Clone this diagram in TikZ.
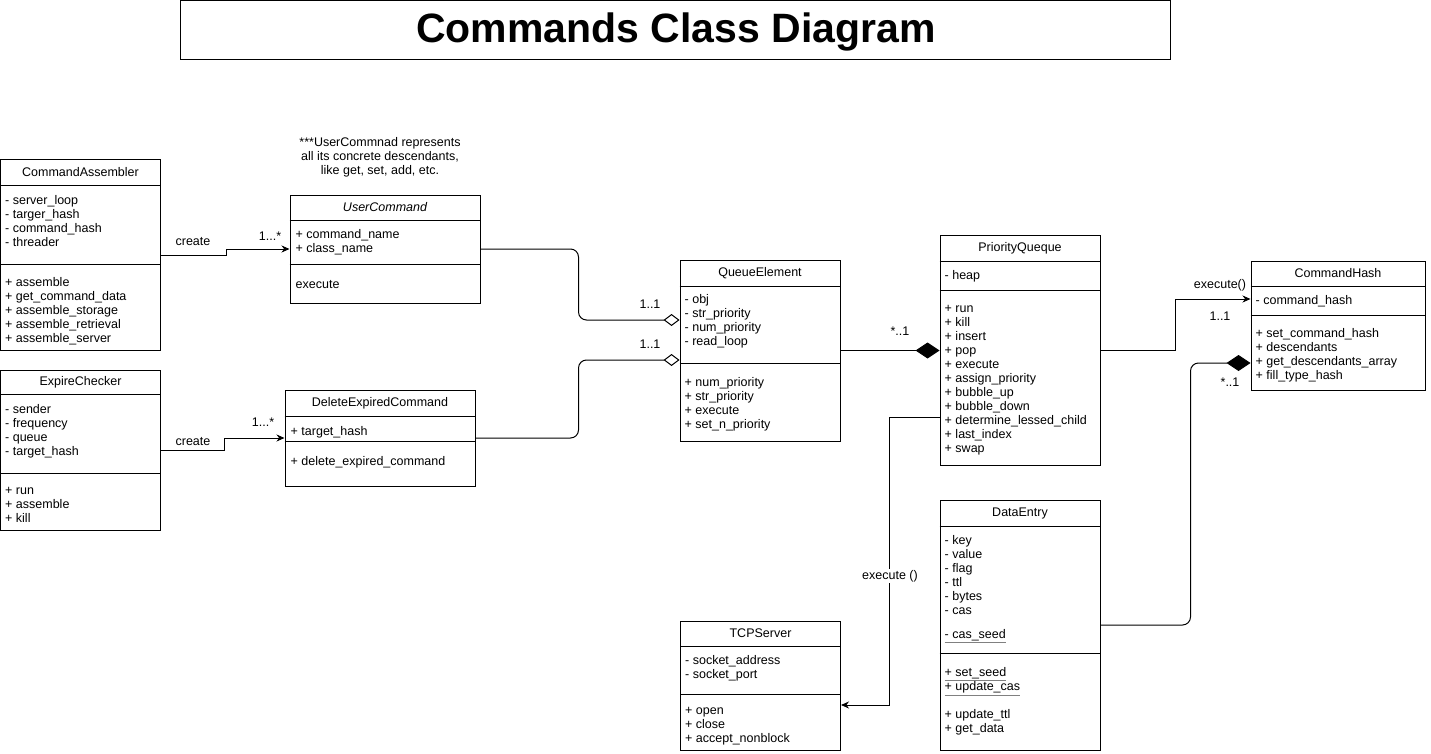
\documentclass[tikz,border=0pt]{standalone}
\usepackage{fontspec}
\setmainfont{Liberation Sans}
\usepackage{tikz}
\usetikzlibrary{arrows.meta}
\newcommand{\stmember}[1]{\mbox{\rlap{\color{gray}\underline{\phantom{#1}}}#1}}
\tikzset{%
	umlclass/.style = {draw, rectangle, line width=1pt, inner sep=0pt},
	clsname/.style  = {inner sep=0pt, font=\fontsize{12.5}{14}\selectfont},
	members/.style  = {anchor=north west, align=left, inner sep=0pt, font=\fontsize{12.5}{14}\selectfont, execute at begin node=\strut},
	divider/.style  = {line width=1pt},
	mult/.style     = {inner sep=1pt, font=\fontsize{12.5}{14}\selectfont},
	assoc/.style    = {line width=1pt, -{Stealth[length=8pt,width=7pt]}},
	aggr/.style     = {line width=1pt, -{Diamond[open,length=16pt,width=12pt]}},
	compos/.style   = {line width=1pt, -{Diamond[length=24pt,width=16pt]}},
}

\begin{document}
\begin{tikzpicture}[x=1pt,y=-1pt]
	\useasboundingbox (0,0) rectangle (1431,754);
	% title
	\node[draw, line width=1pt, minimum width=990pt, minimum height=59pt] (title) at (675,30.5) {};
	\node[font=\fontsize{41}{48}\selectfont\bfseries] (title-text) at (676,32) {Commands Class Diagram};
	% CommandAssembler
	\node[umlclass, minimum width=160pt, minimum height=190pt] (asm) at (80.5,255) {};
	\node[clsname] (asm-name) at ([yshift=-13pt]asm.north) {CommandAssembler};
	\draw[divider] ([yshift=-26pt]asm.north west) -- ([yshift=-26pt]asm.north east);
	\draw[divider] ([yshift=-105pt]asm.north west) -- ([yshift=-105pt]asm.north east);
	\node[members] (asm-attr) at ([xshift=5pt,yshift=-36pt]asm.north west) {- server\_loop\\- targer\_hash\\- command\_hash\\- threader};
	\node[members] (asm-meth) at ([xshift=5pt,yshift=-118pt]asm.north west) {+ assemble\\+ get\_command\_data\\+ assemble\_storage\\+ assemble\_retrieval\\+ assemble\_server};
	% ExpireChecker
	\node[umlclass, minimum width=160pt, minimum height=160pt] (exp) at (80.5,450) {};
	\node[clsname] (exp-name) at ([yshift=-12.5pt]exp.north) {ExpireChecker};
	\draw[divider] ([yshift=-25pt]exp.north west) -- ([yshift=-25pt]exp.north east);
	\draw[divider] ([yshift=-104pt]exp.north west) -- ([yshift=-104pt]exp.north east);
	\node[members] (exp-attr) at ([xshift=5pt,yshift=-35pt]exp.north west) {- sender\\- frequency\\- queue\\- target\_hash};
	\node[members] (exp-meth) at ([xshift=5pt,yshift=-118pt]exp.north west) {+ run\\+ assemble\\+ kill};
	% UserCommand
	\node[align=center, font=\fontsize{12.5}{14}\selectfont] (note) at (380,157) {***UserCommnad represents\\all its concrete descendants,\\like get, set, add, etc.};
	\node[umlclass, minimum width=190pt, minimum height=108pt] (ucmd) at (385,249) {};
	\node[clsname, font=\fontsize{12.5}{14}\selectfont\itshape] (ucmd-name) at ([yshift=-13pt]ucmd.north) {UserCommand};
	\draw[divider] ([yshift=-26pt]ucmd.north west) -- ([yshift=-26pt]ucmd.north east);
	\draw[divider] ([yshift=-70pt]ucmd.north west) -- ([yshift=-70pt]ucmd.north east);
	\node[members] (ucmd-attr) at ([xshift=6pt,yshift=-35pt]ucmd.north west) {+ command\_name\\+ class\_name};
	\node[members] (ucmd-meth) at ([xshift=6pt,yshift=-84pt]ucmd.north west) {execute};
	% DeleteExpiredCommand
	\node[umlclass, minimum width=190pt, minimum height=96pt] (dec) at (380,438) {};
	\node[clsname] (dec-name) at ([yshift=-13.5pt]dec.north) {DeleteExpiredCommand};
	\draw[divider] ([yshift=-27pt]dec.north west) -- ([yshift=-27pt]dec.north east);
	\draw[divider] ([yshift=-52pt]dec.north west) -- ([yshift=-52pt]dec.north east);
	\node[members] (dec-attr) at ([xshift=6pt,yshift=-36pt]dec.north west) {+ target\_hash};
	\node[members] (dec-meth) at ([xshift=6pt,yshift=-66pt]dec.north west) {+ delete\_expired\_command};
	% QueueElement
	\node[umlclass, minimum width=160pt, minimum height=181pt] (qe) at (760,350.5) {};
	\node[clsname] (qe-name) at ([yshift=-13.5pt]qe.north) {QueueElement};
	\draw[divider] ([yshift=-27pt]qe.north west) -- ([yshift=-27pt]qe.north east);
	\draw[divider] ([yshift=-104pt]qe.north west) -- ([yshift=-104pt]qe.north east);
	\node[members] (qe-attr) at ([xshift=5pt,yshift=-35pt]qe.north west) {- obj\\- str\_priority\\- num\_priority\\- read\_loop};
	\node[members] (qe-meth) at ([xshift=5pt,yshift=-118pt]qe.north west) {+ num\_priority\\+ str\_priority\\+ execute\\+ set\_n\_priority};
	% PriorityQueque
	\node[umlclass, minimum width=160pt, minimum height=230pt] (pq) at (1020,350) {};
	\node[clsname] (pq-name) at ([yshift=-13.5pt]pq.north) {PriorityQueque};
	\draw[divider] ([yshift=-27pt]pq.north west) -- ([yshift=-27pt]pq.north east);
	\draw[divider] ([yshift=-56pt]pq.north west) -- ([yshift=-56pt]pq.north east);
	\node[members] (pq-attr) at ([xshift=5pt,yshift=-35pt]pq.north west) {- heap};
	\node[members] (pq-meth) at ([xshift=5pt,yshift=-71pt]pq.north west) {+ run\\+ kill\\+ insert\\+ pop\\+ execute\\+ assign\_priority\\+ bubble\_up\\+ bubble\_down\\+ determine\_lessed\_child\\+ last\_index\\+ swap};
	% CommandHash
	\node[umlclass, minimum width=174pt, minimum height=129pt] (ch) at (1338,325.5) {};
	\node[clsname] (ch-name) at ([yshift=-13pt]ch.north) {CommandHash};
	\draw[divider] ([yshift=-26pt]ch.north west) -- ([yshift=-26pt]ch.north east);
	\draw[divider] ([yshift=-55pt]ch.north west) -- ([yshift=-55pt]ch.north east);
	\node[members] (ch-attr) at ([xshift=5pt,yshift=-34pt]ch.north west) {- command\_hash};
	\node[members] (ch-meth) at ([xshift=5pt,yshift=-68pt]ch.north west) {+ set\_command\_hash\\+ descendants\\+ get\_descendants\_array\\+ fill\_type\_hash};
	% DataEntry
	\node[umlclass, minimum width=160pt, minimum height=250pt] (de) at (1020,625) {};
	\node[clsname] (de-name) at ([yshift=-13.5pt]de.north) {DataEntry};
	\draw[divider] ([yshift=-27pt]de.north west) -- ([yshift=-27pt]de.north east);
	\draw[divider] ([yshift=-154pt]de.north west) -- ([yshift=-154pt]de.north east);
	\node[members] (de-attr) at ([xshift=5pt,yshift=-36pt]de.north west) {- key\\- value\\- flag\\- ttl\\- bytes\\- cas\\[10pt]\stmember{- cas\_seed}};
	\node[members] (de-meth) at ([xshift=5pt,yshift=-168pt]de.north west) {\stmember{+ set\_seed}\\\stmember{+ update\_cas}\\[14pt]+ update\_ttl\\+ get\_data};
	% TCPServer
	\node[umlclass, minimum width=160pt, minimum height=129pt] (tcp) at (760.5,685.5) {};
	\node[clsname] (tcp-name) at ([yshift=-13pt]tcp.north) {TCPServer};
	\draw[divider] ([yshift=-26pt]tcp.north west) -- ([yshift=-26pt]tcp.north east);
	\draw[divider] ([yshift=-74pt]tcp.north west) -- ([yshift=-74pt]tcp.north east);
	\node[members] (tcp-attr) at ([xshift=5pt,yshift=-35pt]tcp.north west) {- socket\_address\\- socket\_port};
	\node[members] (tcp-meth) at ([xshift=5pt,yshift=-87pt]tcp.north west) {+ open\\+ close\\+ accept\_nonblock};
	% connectors
	\draw[assoc] (asm.east) -- ++(65,0) |- (ucmd.west);
	\draw[assoc] (exp.east) -- ++(63,0) |- (dec.west);
	\draw[aggr, rounded corners=8pt] (ucmd.east) -- ++(98,0) |- ([yshift=30.5pt]qe.west);
	\draw[aggr, rounded corners=8pt] (dec.east) -- ++(103,0) |- ([yshift=-9.5pt]qe.west);
	\draw[compos] (qe.east) -- (qe.east -| pq.west);
	\draw[assoc] ([yshift=-67pt]pq.west) -- ++(-50,0) |- ([yshift=-19.5pt]tcp.east);
	\draw[assoc] (pq.east) -- ++(75,0) |- ([yshift=26.5pt]ch.west);
	\draw[compos, rounded corners=8pt] (de.east) -- ++(90,0) |- ([yshift=-37.5pt]ch.west);
	% labels
	\node[mult] (create-a) at (193,242) {create};
	\node[mult] (create-b) at (193,442) {create};
	\node[mult] (m-ucmd) at (270,236) {1...*};
	\node[mult] (m-dec) at (263,422) {1...*};
	\node[mult] (m-qe-a) at (650,304) {1..1};
	\node[mult] (m-qe-b) at (650,344) {1..1};
	\node[mult] (m-pq) at (900,331) {*..1};
	\node[mult, fill=white] (exec-tcp) at (890,576) {execute ()};
	\node[mult] (exec-ch) at (1220,285) {execute()};
	\node[mult] (m-ch-a) at (1220,316) {1..1};
	\node[mult] (m-ch-b) at (1230,382) {*..1};
\end{tikzpicture}
\end{document}
